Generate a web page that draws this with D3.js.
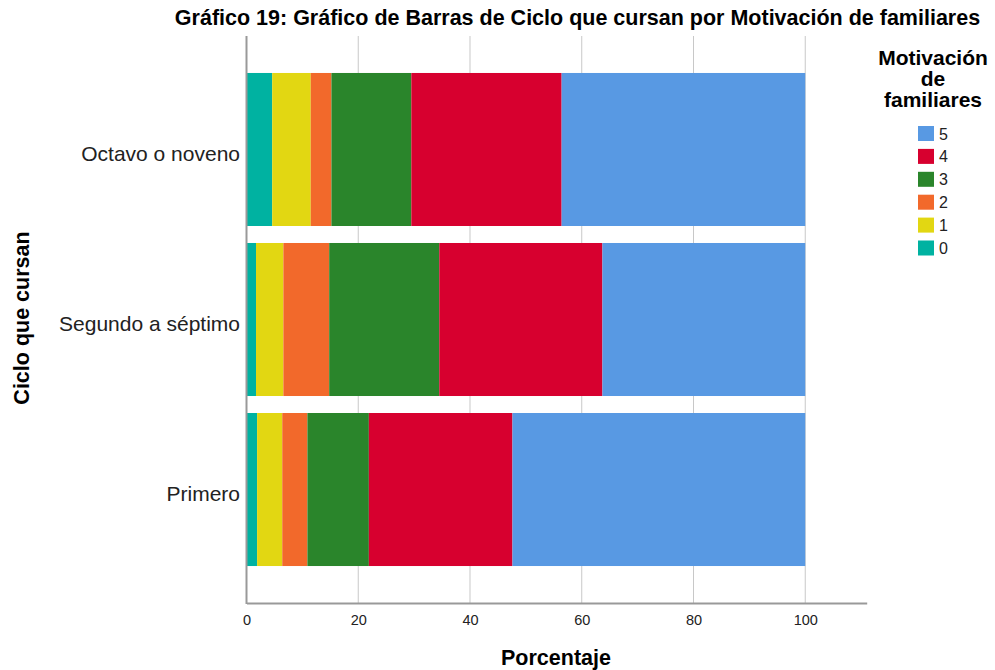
<!DOCTYPE html>
<html>
<head>
<meta charset="utf-8">
<script src="https://cdn.jsdelivr.net/npm/d3@7"></script>
<style>
  body { margin: 0; background: #fff; }
  svg { display: block; font-family: "Liberation Sans", Arial, sans-serif; }
</style>
</head>
<body>
<div id="chart"></div>
<script>
// Data (percent of each ciclo)
const categories = ["Octavo o noveno", "Segundo a séptimo", "Primero"];
const seriesKeys = ["0", "1", "2", "3", "4", "5"];
const values0 = [4.6, 1.7, 1.9];
const values1 = [6.9, 4.9, 4.5];
const values2 = [3.7, 8.2, 4.5];
const values3 = [14.3, 19.7, 11.0];
const values4 = [26.9, 29.2, 25.7];
const values5 = [43.6, 36.3, 52.4];
const xTicks = [0, 20, 40, 60, 80, 100];
const colors = ["#00b2a1", "#e2d712", "#f2692b", "#2a852b", "#d7002f", "#5899e3"];

const width = 995, height = 670;
const allValues = [values0, values1, values2, values3, values4, values5];

// build rows for d3.stack
const rows = categories.map((c, i) => {
  const r = { cat: c };
  seriesKeys.forEach((k, j) => { r[k] = allValues[j][i]; });
  return r;
});

const svg = d3.select("#chart").append("svg")
    .attr("width", width)
    .attr("height", height);

const x = d3.scaleLinear().domain([0, 111]).range([246.5, 866.7]);
const y = d3.scaleBand().domain(categories).range([36, 603])
    .paddingInner(0.1).paddingOuter(0.2175);
const color = d3.scaleOrdinal().domain(seriesKeys).range(colors);

// gridlines
svg.append("g")
  .selectAll("line")
  .data(xTicks.slice(1))
  .join("line")
    .attr("x1", d => x(d)).attr("x2", d => x(d))
    .attr("y1", 36).attr("y2", 603)
    .attr("stroke", "#c8c8c8")
    .attr("stroke-width", 1);

// bars
const stacked = d3.stack().keys(seriesKeys)(rows);
svg.append("g")
  .selectAll("g")
  .data(stacked)
  .join("g")
    .attr("fill", d => color(d.key))
  .selectAll("rect")
  .data(d => d)
  .join("rect")
    .attr("x", d => x(d[0]))
    .attr("width", d => x(d[1]) - x(d[0]))
    .attr("y", d => y(d.data.cat))
    .attr("height", y.bandwidth());

// x axis
const xAxis = svg.append("g")
    .attr("transform", "translate(0,603)")
    .call(d3.axisBottom(x).tickValues(xTicks).tickSize(0).tickPadding(12));
xAxis.select(".domain").attr("stroke", "#999").attr("stroke-width", 2);
xAxis.selectAll("text")
    .attr("font-size", 14.5)
    .attr("fill", "#222")
    .attr("font-family", "Liberation Sans, Arial, sans-serif");

// y axis line
svg.append("line")
    .attr("x1", 246.5).attr("x2", 246.5)
    .attr("y1", 36).attr("y2", 604)
    .attr("stroke", "#999").attr("stroke-width", 2);

// category labels
svg.append("g")
  .selectAll("text")
  .data(categories)
  .join("text")
    .attr("x", 240)
    .attr("y", d => y(d) + y.bandwidth() / 2)
    .attr("dy", "0.55em")
    .attr("text-anchor", "end")
    .attr("font-size", 21)
    .attr("fill", "#222")
    .text(d => d);

// titles
svg.append("text")
    .attr("x", 577.5).attr("y", 25)
    .attr("text-anchor", "middle")
    .attr("font-size", 21.5).attr("font-weight", "bold")
    .text("Gráfico 19: Gráfico de Barras de Ciclo que cursan por Motivación de familiares");

svg.append("text")
    .attr("transform", "translate(29,318) rotate(-90)")
    .attr("text-anchor", "middle")
    .attr("font-size", 21.5).attr("font-weight", "bold")
    .text("Ciclo que cursan");

svg.append("text")
    .attr("x", 556).attr("y", 665)
    .attr("text-anchor", "middle")
    .attr("font-size", 21.5).attr("font-weight", "bold")
    .text("Porcentaje");

// legend
const legendTitle = ["Motivación", "de", "familiares"];
svg.append("g")
  .selectAll("text")
  .data(legendTitle)
  .join("text")
    .attr("x", 933)
    .attr("y", (d, i) => 65 + i * 21)
    .attr("text-anchor", "middle")
    .attr("font-size", 21).attr("font-weight", "bold")
    .text(d => d);

const legendKeys = seriesKeys.slice().reverse();
const legend = svg.append("g")
  .selectAll("g")
  .data(legendKeys)
  .join("g")
    .attr("transform", (d, i) => `translate(918,${133.5 + i * 22.9})`);

legend.append("rect")
    .attr("x", 0).attr("y", -7.5)
    .attr("width", 16).attr("height", 15)
    .attr("fill", d => color(d));

legend.append("text")
    .attr("x", 21).attr("y", 0)
    .attr("dy", "0.38em")
    .attr("font-size", 16)
    .attr("fill", "#222")
    .text(d => d);
</script>
</body>
</html>
